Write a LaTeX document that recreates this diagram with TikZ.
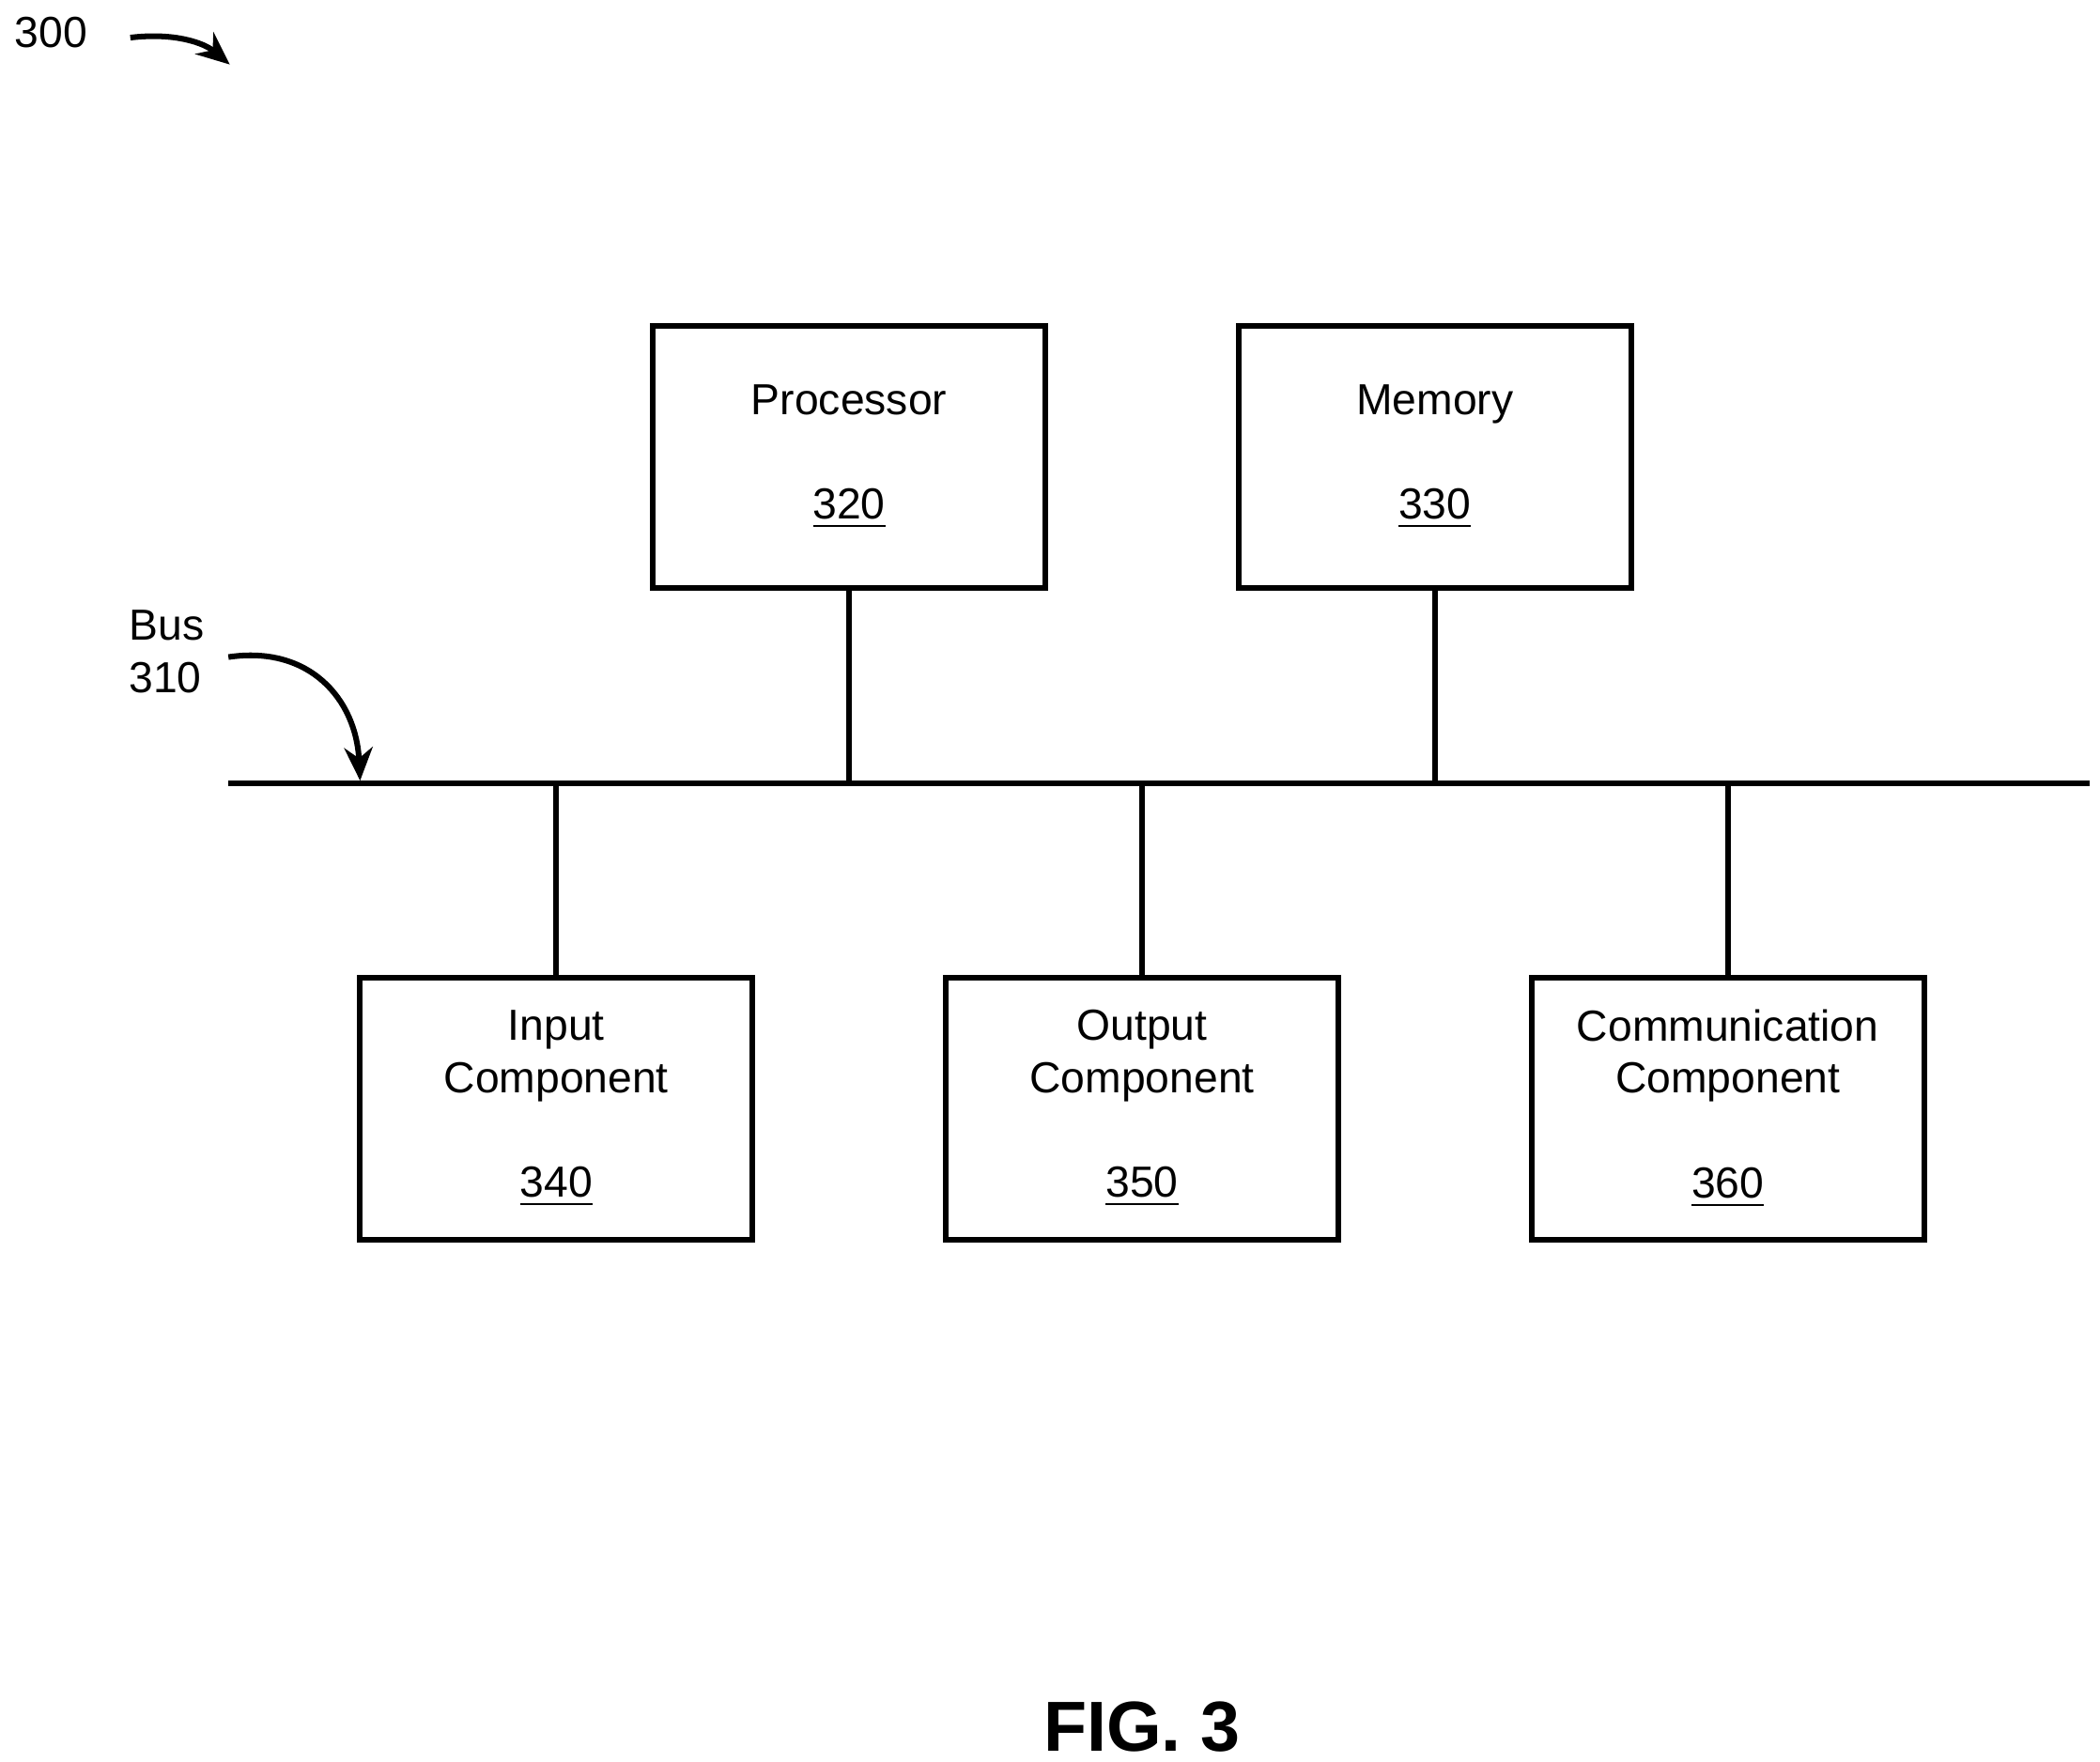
\documentclass[tikz,border=0pt]{standalone}
\usepackage{fontspec}
\setmainfont{Liberation Sans}
\usetikzlibrary{positioning,arrows.meta}
\tikzstyle{block} = [rectangle, draw=black, line width=1.2pt, minimum width=2.92cm, minimum height=1.95cm, align=center, font=\fontsize{9.2}{11.1}\selectfont]
\tikzstyle{wire} = [line width=1.2pt]
\tikzstyle{pointer} = [line width=1.2pt, -{Stealth[length=7pt,width=6pt]}]
\begin{document}
\begin{tikzpicture}[x=0.01cm, y=-0.01cm, font=\fontsize{9.2}{11.1}\selectfont]
	\useasboundingbox (0,0) rectangle (1563,1311);
	\node (proc) [block] at (632,340) {Processor\\[11.1pt]\underline{320}};
	\node (mem) [block] at (1068,340) {Memory\\[11.1pt]\underline{330}};
	\node (input) [block] at (414,825) {Input\\Component\\[11.1pt]\underline{340}};
	\node (output) [block] at (850,825) {Output\\Component\\[11.1pt]\underline{350}};
	\node (comm) [block] at (1286,825) {Communication\\Component\\[11.1pt]\underline{360}};

	\coordinate (busL) at (170,583);
	\coordinate (busR) at (1555,583);
	\draw [wire] (busL) -- (busR);
	\draw [wire] (proc.south) -- (proc.south |- busL);
	\draw [wire] (mem.south) -- (mem.south |- busL);
	\draw [wire] (input.north) -- (input.north |- busL);
	\draw [wire] (output.north) -- (output.north |- busL);
	\draw [wire] (comm.north) -- (comm.north |- busL);

	\node (buslabel) [align=left] at (124,485) {Bus\\310};
	\coordinate (bustip) at (268,581);
	\draw [pointer] (170,489) .. controls (230,480) and (265,520) .. (bustip);

	\node (fig) at (38,24) {300};
	\draw [pointer] (97,28) .. controls (130,24) and (152,32) .. (171,48);

	\node (caption) [font=\fontsize{15}{18}\selectfont\bfseries] at (850,1285) {FIG. 3};
\end{tikzpicture}
\end{document}
